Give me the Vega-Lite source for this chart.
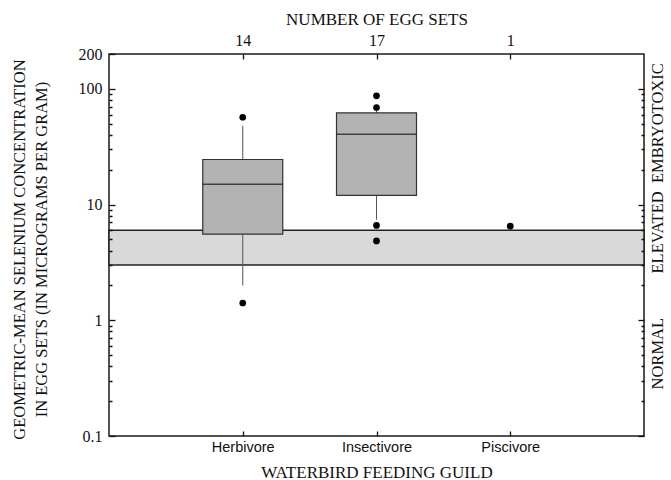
{
  "$schema": "https://vega.github.io/schema/vega-lite/v6.json",
  "width": 535,
  "height": 382,
  "autosize": "none",
  "padding": {"left": 109, "top": 54, "right": 27, "bottom": 44},
  "background": "white",
  "config": {
    "view": {"stroke": "#1a1a1a", "strokeWidth": 1.5},
    "axis": {
      "domain": false,
      "grid": false,
      "labelColor": "#111",
      "titleColor": "#111",
      "labelFont": "Liberation Serif",
      "labelFontSize": 16,
      "titleFont": "Liberation Serif",
      "titleFontSize": 17,
      "titleFontWeight": "normal",
      "labelFlush": false,
      "labelOverlap": false
    }
  },
  "datasets": {
    "band": [{"low": 3, "high": 6}],
    "boxes": [
      {"guild": "Herbivore", "n": "14", "wlo": 2.0, "q1": 5.55, "med": 15.0, "q3": 24.5, "whi": 48},
      {"guild": "Insectivore", "n": "17", "wlo": 7.4, "q1": 12.0, "med": 40.5, "q3": 62, "whi": 65}
    ],
    "outliers": [
      {"guild": "Herbivore", "value": 56.8},
      {"guild": "Herbivore", "value": 1.41},
      {"guild": "Insectivore", "value": 87},
      {"guild": "Insectivore", "value": 69},
      {"guild": "Insectivore", "value": 6.6},
      {"guild": "Insectivore", "value": 4.85},
      {"guild": "Piscivore", "value": 6.5}
    ]
  },
  "resolve": {"scale": {"x": "independent"}, "axis": {"x": "independent", "y": "independent"}},
  "layer": [
    {
      "data": {"name": "band"},
      "mark": {"type": "rect", "fill": "#d9d9d9", "stroke": "#222", "strokeWidth": 1.5},
      "encoding": {
        "y": {
          "field": "low", "type": "quantitative",
          "scale": {"type": "log", "domain": [0.1, 200], "nice": false},
          "axis": {
            "orient": "left",
            "offset": -6,
            "zindex": 1,
            "ticks": true,
            "tickColor": "#111",
            "tickWidth": 1.3,
            "values": [0.1, 0.2, 0.3, 0.4, 0.5, 0.6, 0.7, 0.8, 0.9, 1, 2, 3, 4, 5, 6, 7, 8, 9, 10, 20, 30, 40, 50, 60, 70, 80, 90, 100, 200],
            "format": "~g",
            "labelExpr": "indexof([0.1, 1, 10, 100, 200], datum.value) >= 0 ? datum.label : ''",
            "tickSize": 6,
            "tickDash": {"condition": {"test": "indexof([0.1, 1, 10, 100, 200], datum.value) >= 0", "value": [6, 0]}, "value": [0, 3, 3]},
            "labelPadding": 7,
            "labelBaseline": "middle",
            "title": ["GEOMETRIC-MEAN SELENIUM CONCENTRATION", "IN EGG SETS (IN MICROGRAMS PER GRAM)"],
            "titleFontSize": 16.5,
            "titleAngle": -90,
            "titleX": -91,
            "titleY": 195,
            "titleAlign": "center",
            "titleBaseline": "alphabetic",
            "titleLineHeight": 22
          }
        },
        "y2": {"field": "high"}
      }
    },
    {
      "data": {"name": "boxes"},
      "mark": {"type": "rule", "color": "#555", "strokeWidth": 1},
      "encoding": {
        "x": {
          "field": "n", "type": "nominal", "sort": null,
          "scale": {"type": "point", "domain": ["14", "17", "1"], "padding": 1},
          "axis": {
            "orient": "top",
            "offset": -5,
            "zindex": 1,
            "ticks": true,
            "tickColor": "#111",
            "tickWidth": 1.3,
            "tickSize": 5,
            "labelPadding": 9,
            "labelAngle": 0,
            "labelBaseline": "alphabetic",
            "title": "NUMBER OF EGG SETS",
            "titleY": -35,
            "titleBaseline": "alphabetic"
          }
        },
        "y": {
          "field": "wlo", "type": "quantitative",
          "scale": {"type": "log", "domain": [0.1, 200], "nice": false},
          "axis": {
            "orient": "right",
            "offset": -6,
            "zindex": 1,
            "ticks": true,
            "tickColor": "#111",
            "tickWidth": 1.3,
            "values": [0.1, 0.2, 0.3, 0.4, 0.5, 0.6, 0.7, 0.8, 0.9, 1, 2, 3, 4, 5, 6, 7, 8, 9, 10, 20, 30, 40, 50, 60, 70, 80, 90, 100, 0.52, 5.8, 51],
            "labelExpr": "datum.value == 0.52 ? 'NORMAL' : datum.value == 5.8 ? 'ELEVATED' : datum.value == 51 ? 'EMBRYOTOXIC' : ''",
            "tickSize": 6,
            "tickDash": {"condition": {"test": "indexof([0.1, 1, 10, 100], datum.value) >= 0", "value": [6, 0]}, "value": [0, 3, 3]},
            "tickOpacity": {"condition": {"test": "indexof([0.52, 5.8, 51], datum.value) >= 0", "value": 0}, "value": 1},
            "labelAngle": -90,
            "labelAlign": "center",
            "labelBaseline": "top",
            "labelPadding": 5,
            "labelFontSize": 16.5,
            "title": null
          }
        },
        "y2": {"field": "whi"}
      }
    },
    {
      "data": {"name": "boxes"},
      "mark": {"type": "bar", "width": 80, "fill": "#b3b3b3", "stroke": "#333", "strokeWidth": 1.2},
      "encoding": {
        "x": {
          "field": "guild", "type": "nominal", "sort": null,
          "scale": {"type": "point", "domain": ["Herbivore", "Insectivore", "Piscivore"], "padding": 1},
          "axis": {
            "orient": "bottom",
            "offset": -5,
            "zindex": 1,
            "ticks": true,
            "tickColor": "#111",
            "tickWidth": 1.3,
            "tickSize": 5,
            "labelPadding": 4.5,
            "labelAngle": 0,
            "labelFont": "Liberation Sans",
            "labelFontSize": 14.5,
            "labelBaseline": "top",
            "title": "WATERBIRD FEEDING GUILD",
            "titleY": 46,
            "titleBaseline": "alphabetic"
          }
        },
        "y": {"field": "q1", "type": "quantitative", "scale": {"type": "log", "domain": [0.1, 200], "nice": false}, "axis": null},
        "y2": {"field": "q3"}
      }
    },
    {
      "data": {"name": "boxes"},
      "mark": {"type": "tick", "size": 80, "thickness": 1.5, "color": "#111"},
      "encoding": {
        "x": {
          "field": "guild", "type": "nominal", "sort": null,
          "scale": {"type": "point", "domain": ["Herbivore", "Insectivore", "Piscivore"], "padding": 1},
          "axis": null
        },
        "y": {"field": "med", "type": "quantitative", "scale": {"type": "log", "domain": [0.1, 200], "nice": false}, "axis": null}
      }
    },
    {
      "data": {"name": "outliers"},
      "mark": {"type": "point", "filled": true, "shape": "circle", "size": 45, "color": "#000", "opacity": 1},
      "encoding": {
        "x": {
          "field": "guild", "type": "nominal", "sort": null,
          "scale": {"type": "point", "domain": ["Herbivore", "Insectivore", "Piscivore"], "padding": 1},
          "axis": null
        },
        "y": {"field": "value", "type": "quantitative", "scale": {"type": "log", "domain": [0.1, 200], "nice": false}, "axis": null}
      }
    }
  ]
}
